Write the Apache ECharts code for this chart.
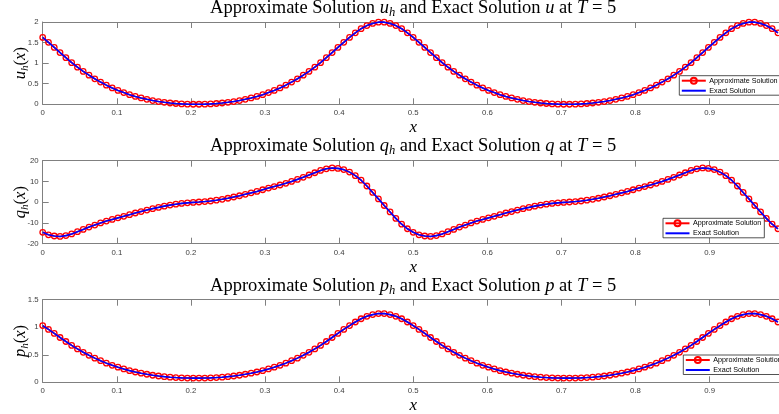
<!DOCTYPE html>
<html>
<head>
<meta charset="utf-8">
<script src="https://cdn.jsdelivr.net/npm/echarts@6/dist/echarts.min.js"></script>
<style>
  html, body { margin: 0; padding: 0; background: #ffffff; }
  #chart { width: 779px; height: 414px; }
</style>
</head>
<body>
<div id="chart"></div>
<script>
// Mesh nodes on [0, 1)
const xNodes = [
  0, 0.0078, 0.0156, 0.0234, 0.0313, 0.0391, 0.0469, 0.0547, 0.0625, 0.0703, 0.0781, 0.0859, 0.0938, 0.1016, 0.1094, 0.1172,
  0.125, 0.1328, 0.1406, 0.1484, 0.1563, 0.1641, 0.1719, 0.1797, 0.1875, 0.1953, 0.2031, 0.2109, 0.2188, 0.2266, 0.2344, 0.2422,
  0.25, 0.2578, 0.2656, 0.2734, 0.2813, 0.2891, 0.2969, 0.3047, 0.3125, 0.3203, 0.3281, 0.3359, 0.3438, 0.3516, 0.3594, 0.3672,
  0.375, 0.3828, 0.3906, 0.3984, 0.4063, 0.4141, 0.4219, 0.4297, 0.4375, 0.4453, 0.4531, 0.4609, 0.4688, 0.4766, 0.4844, 0.4922,
  0.5, 0.5078, 0.5156, 0.5234, 0.5313, 0.5391, 0.5469, 0.5547, 0.5625, 0.5703, 0.5781, 0.5859, 0.5938, 0.6016, 0.6094, 0.6172,
  0.625, 0.6328, 0.6406, 0.6484, 0.6563, 0.6641, 0.6719, 0.6797, 0.6875, 0.6953, 0.7031, 0.7109, 0.7188, 0.7266, 0.7344, 0.7422,
  0.75, 0.7578, 0.7656, 0.7734, 0.7813, 0.7891, 0.7969, 0.8047, 0.8125, 0.8203, 0.8281, 0.8359, 0.8438, 0.8516, 0.8594, 0.8672,
  0.875, 0.8828, 0.8906, 0.8984, 0.9063, 0.9141, 0.9219, 0.9297, 0.9375, 0.9453, 0.9531, 0.9609, 0.9688, 0.9766, 0.9844, 0.9922
];

// u at T = 5
const uValues = [
  1.625, 1.507, 1.382, 1.258, 1.133, 1.012, 0.903, 0.800, 0.707, 0.620, 0.540, 0.465, 0.398, 0.338, 0.285, 0.234,
  0.191, 0.154, 0.121, 0.091, 0.067, 0.048, 0.031, 0.019, 0.010, 0.004, 0.001, 0.001, 0.004, 0.010, 0.019, 0.031,
  0.048, 0.067, 0.091, 0.121, 0.154, 0.191, 0.234, 0.285, 0.338, 0.398, 0.465, 0.540, 0.620, 0.707, 0.800, 0.903,
  1.012, 1.133, 1.258, 1.382, 1.507, 1.625, 1.737, 1.837, 1.913, 1.965, 1.996, 1.996, 1.965, 1.913, 1.837, 1.737,
  1.625, 1.507, 1.382, 1.258, 1.133, 1.012, 0.903, 0.800, 0.707, 0.620, 0.540, 0.465, 0.398, 0.338, 0.285, 0.234,
  0.191, 0.154, 0.121, 0.091, 0.067, 0.048, 0.031, 0.019, 0.010, 0.004, 0.001, 0.001, 0.004, 0.010, 0.019, 0.031,
  0.048, 0.067, 0.091, 0.121, 0.154, 0.191, 0.234, 0.285, 0.338, 0.398, 0.465, 0.540, 0.620, 0.707, 0.800, 0.903,
  1.012, 1.133, 1.258, 1.382, 1.507, 1.625, 1.737, 1.837, 1.913, 1.965, 1.996, 1.996, 1.965, 1.913, 1.837, 1.737
];

// q at T = 5
const qValues = [
  -14.5, -15.7, -16.3, -16.5, -16.1, -15.3, -14.2, -13.1, -12.0, -11.0, -10.0, -9.1, -8.3, -7.55, -6.8, -6.0,
  -5.2, -4.5, -3.8, -3.1, -2.5, -1.9, -1.4, -0.97, -0.58, -0.31, -0.10, 0.10, 0.31, 0.58, 0.97, 1.4,
  1.9, 2.5, 3.1, 3.8, 4.5, 5.2, 6.0, 6.8, 7.55, 8.3, 9.1, 10.0, 11.0, 12.0, 13.1, 14.2,
  15.3, 16.1, 16.5, 16.3, 15.7, 14.5, 12.8, 10.6, 7.8, 4.7, 1.6, -1.6, -4.7, -7.8, -10.6, -12.8,
  -14.5, -15.7, -16.3, -16.5, -16.1, -15.3, -14.2, -13.1, -12.0, -11.0, -10.0, -9.1, -8.3, -7.55, -6.8, -6.0,
  -5.2, -4.5, -3.8, -3.1, -2.5, -1.9, -1.4, -0.97, -0.58, -0.31, -0.10, 0.10, 0.31, 0.58, 0.97, 1.4,
  1.9, 2.5, 3.1, 3.8, 4.5, 5.2, 6.0, 6.8, 7.55, 8.3, 9.1, 10.0, 11.0, 12.0, 13.1, 14.2,
  15.3, 16.1, 16.5, 16.3, 15.7, 14.5, 12.8, 10.6, 7.8, 4.7, 1.6, -1.6, -4.7, -7.8, -10.6, -12.8
];

// p at T = 5
const pValues = [
  1.030, 0.960, 0.887, 0.814, 0.741, 0.670, 0.606, 0.545, 0.490, 0.439, 0.392, 0.348, 0.309, 0.274, 0.242, 0.212,
  0.187, 0.165, 0.146, 0.128, 0.114, 0.103, 0.093, 0.086, 0.081, 0.077, 0.076, 0.076, 0.077, 0.081, 0.086, 0.093,
  0.103, 0.114, 0.128, 0.146, 0.165, 0.187, 0.212, 0.242, 0.274, 0.309, 0.348, 0.392, 0.439, 0.490, 0.545, 0.606,
  0.670, 0.741, 0.814, 0.887, 0.960, 1.030, 1.095, 1.154, 1.199, 1.229, 1.248, 1.248, 1.229, 1.199, 1.154, 1.095,
  1.030, 0.960, 0.887, 0.814, 0.741, 0.670, 0.606, 0.545, 0.490, 0.439, 0.392, 0.348, 0.309, 0.274, 0.242, 0.212,
  0.187, 0.165, 0.146, 0.128, 0.114, 0.103, 0.093, 0.086, 0.081, 0.077, 0.076, 0.076, 0.077, 0.081, 0.086, 0.093,
  0.103, 0.114, 0.128, 0.146, 0.165, 0.187, 0.212, 0.242, 0.274, 0.309, 0.348, 0.392, 0.439, 0.490, 0.545, 0.606,
  0.670, 0.741, 0.814, 0.887, 0.960, 1.030, 1.095, 1.154, 1.199, 1.229, 1.248, 1.248, 1.229, 1.199, 1.154, 1.095
];

// Axis ranges [min, max, step]
const xRange = [0, 1, 0.1];
const uRange = [0, 2, 0.5];
const qRange = [-20, 20, 10];
const pRange = [0, 1.5, 0.5];

const seriesNames = ['Approximate Solution', 'Exact Solution'];
const symbols = ['u', 'q', 'p'];

const SERIF = "'Liberation Serif', 'DejaVu Serif', serif";
const SANS = "'Liberation Sans', Arial, sans-serif";
const AXIS_GRAY = '#808080';
const LABEL_GRAY = '#404040';

const panels = [
  { values: uValues, range: uRange, top: 22, height: 82.3, titleY: 8.5, legend: [679.3, 75.7] },
  { values: qValues, range: qRange, top: 160.7, height: 83, titleY: 146.5, legend: [663, 218.3] },
  { values: pValues, range: pRange, top: 299.7, height: 82.6, titleY: 286.2, legend: [683.3, 355] }
];

const richMath = (size) => ({
  r: { fontFamily: SERIF, fontSize: size, color: '#000', lineHeight: 21, verticalAlign: 'middle' },
  i: { fontFamily: SERIF, fontSize: size, fontStyle: 'italic', color: '#000', lineHeight: 21, verticalAlign: 'middle' },
  s: { fontFamily: SERIF, fontSize: size * 0.68, fontStyle: 'italic', color: '#000', lineHeight: 21, verticalAlign: 'bottom' }
});

const grid = [], xAxis = [], yAxis = [], series = [], legend = [], graphic = [];

panels.forEach((pn, k) => {
  const sym = symbols[k];
  grid.push({ left: 42.7, width: 741, top: pn.top, height: pn.height, containLabel: false, outerBoundsMode: 'none' });

  // bottom x axis with labels
  xAxis.push({
    type: 'value', gridIndex: k, min: xRange[0], max: xRange[1], interval: xRange[2],
    position: 'bottom',
    axisLine: { show: true, onZero: false, lineStyle: { color: AXIS_GRAY, width: 1 } },
    axisTick: { show: true, inside: true, length: 6, lineStyle: { color: AXIS_GRAY } },
    axisLabel: { show: true, margin: 5, fontSize: 7.8, fontFamily: SANS, color: LABEL_GRAY,
                 formatter: (v) => (v >= 1 ? '' : String(+v.toFixed(1))) },
    splitLine: { show: false },
    name: '{i|x}', nameLocation: 'middle', nameGap: 13, nameMoveOverlap: false,
    nameTextStyle: { rich: richMath(17) }
  });
  // top edge of the box
  xAxis.push({
    type: 'value', gridIndex: k, min: xRange[0], max: xRange[1], interval: xRange[2],
    position: 'top',
    axisLine: { show: true, onZero: false, lineStyle: { color: AXIS_GRAY, width: 1 } },
    axisTick: { show: true, inside: true, length: 6, lineStyle: { color: AXIS_GRAY } },
    axisLabel: { show: false }, splitLine: { show: false }
  });

  yAxis.push({
    type: 'value', gridIndex: k, min: pn.range[0], max: pn.range[1], interval: pn.range[2],
    position: 'left',
    axisLine: { show: true, onZero: false, lineStyle: { color: AXIS_GRAY, width: 1 } },
    axisTick: { show: true, inside: true, length: 6, lineStyle: { color: AXIS_GRAY } },
    axisLabel: { show: true, margin: 4, fontSize: 7.8, fontFamily: SANS, color: LABEL_GRAY },
    splitLine: { show: false },
    name: '{i|' + sym + '}{s|h}{r|(}{i|x}{r|)}', nameLocation: 'middle', nameGap: 12, nameRotate: 90,
    nameMoveOverlap: false,
    nameTextStyle: { rich: richMath(16.5) }
  });

  const pairs = xNodes.map((x, i) => [x, pn.values[i]]);

  series.push({
    name: seriesNames[0], type: 'line', xAxisIndex: 2 * k, yAxisIndex: k,
    data: pairs, symbol: 'circle', symbolSize: 5.5, showAllSymbol: true, clip: false,
    itemStyle: { color: 'rgba(255,0,0,0)', borderColor: '#ff0000', borderWidth: 1.3 },
    lineStyle: { color: '#ff0000', width: 1.5 },
    emphasis: { disabled: true }, z: 2
  });
  series.push({
    name: seriesNames[1], type: 'line', xAxisIndex: 2 * k, yAxisIndex: k,
    data: pairs, symbol: 'none', showSymbol: false, clip: false,
    itemStyle: { color: '#0000ff' },
    lineStyle: { color: '#0000ff', width: 1.6 },
    emphasis: { disabled: true }, z: 3
  });

  legend.push({
    data: [
      { name: seriesNames[0] },
      { name: seriesNames[1], itemStyle: { color: 'rgba(0,0,0,0)', borderWidth: 0 } }
    ],
    orient: 'vertical', left: pn.legend[0], top: pn.legend[1],
    itemWidth: 24, itemHeight: 7.5, itemGap: 2.5,
    padding: [1, 3, 1, 1.5],
    backgroundColor: '#ffffff', borderColor: '#262626', borderWidth: 0.8, borderRadius: 0,
    textStyle: { fontSize: 7.2, fontFamily: SANS, color: '#000', padding: [0, 0, 0, -1.5] },
    selectedMode: false
  });

  graphic.push({
    type: 'text', x: 413.2, y: pn.titleY, z: 10,
    style: {
      text: '{r|Approximate Solution }{i|' + sym + '}{s|h}{r| and Exact Solution }{i|' + sym + '}{r| at }{i|T}{r| = 5}',
      rich: richMath(18.5), align: 'center', verticalAlign: 'middle'
    }
  });
});

const chart = echarts.init(document.getElementById('chart'), null, { renderer: 'canvas' });
chart.setOption({
  animation: false,
  backgroundColor: '#ffffff',
  grid, xAxis, yAxis, series, legend, graphic
});
</script>
</body>
</html>
